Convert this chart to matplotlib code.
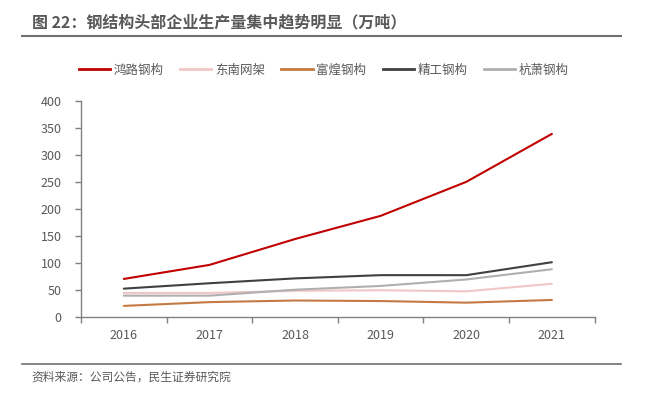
import matplotlib
matplotlib.use("Agg")
import matplotlib.pyplot as plt
from matplotlib.lines import Line2D

plt.rcParams["font.family"] = ["Noto Sans CJK SC", "DejaVu Sans"]

YEARS = ["2016", "2017", "2018", "2019", "2020", "2021"]
HONGLU = [70, 96, 144, 187, 250, 339]
DONGNAN = [44, 44, 48, 49, 47, 61]
FUHUANG = [20, 27, 30, 29, 26, 31]
JINGGONG = [52, 62, 71, 77, 77, 101]
HANGXIAO = [39, 39, 50, 57, 69, 88]

SERIES = [
    ("鸿路钢构", HONGLU, "#C00000"),
    ("东南网架", DONGNAN, "#F2C6C6"),
    ("富煌钢构", FUHUANG, "#C47A42"),
    ("精工钢构", JINGGONG, "#404040"),
    ("杭萧钢构", HANGXIAO, "#AFAFAF"),
]

TEXT = "#595959"
AXIS = "#808080"

fig = plt.figure(figsize=(6.45, 3.96), dpi=100)
ax = fig.add_axes([0.1256, 0.2003, 0.7964, 0.5447])

x = list(range(len(YEARS)))
for name, values, color in SERIES:
    ax.plot(x, values, color=color, linewidth=1.5, label=name, solid_capstyle="round")

ax.set_xlim(-0.5, len(YEARS) - 0.5)
ax.set_ylim(0, 400)
ax.set_yticks(range(0, 401, 50))
ax.set_xticks(x)
ax.set_xticklabels(YEARS)
ax.set_xticks([i - 0.5 for i in range(len(YEARS) + 1)], minor=True)
ax.tick_params(axis="x", which="major", length=0, pad=9, labelsize=9, labelcolor=TEXT)
ax.tick_params(axis="x", which="minor", length=4, width=1, color=AXIS)
ax.tick_params(axis="y", length=4, width=1, color=AXIS, labelsize=9, labelcolor=TEXT, pad=10)

for side in ("top", "right"):
    ax.spines[side].set_visible(False)
for side in ("left", "bottom"):
    ax.spines[side].set_color(AXIS)
    ax.spines[side].set_linewidth(1)

handles = [Line2D([], [], color=c, linewidth=2) for _, _, c in SERIES]
fig.legend(handles, [s[0] for s in SERIES], loc="center", bbox_to_anchor=(0.502, 0.823),
           ncol=5, frameon=False, fontsize=9, handlelength=2.5, handletextpad=0.3,
           columnspacing=1.3, labelcolor=TEXT)

fig.text(0.049, 1 - 22.5 / 396, "图 22：钢结构头部企业生产量集中趋势明显（万吨）",
         fontsize=11.5, fontweight="bold", color=TEXT, va="center", ha="left")
fig.add_artist(Line2D([22 / 645, 621 / 645], [1 - 35.7 / 396] * 2, color="#707070", linewidth=1.5))
fig.add_artist(Line2D([22 / 645, 621 / 645], [1 - 364 / 396] * 2, color="#707070", linewidth=1.2))
fig.text(0.048, 1 - 377 / 396, "资料来源：公司公告，民生证券研究院",
         fontsize=8.5, color=TEXT, va="center", ha="left")

fig.savefig("out.png", dpi=100)
